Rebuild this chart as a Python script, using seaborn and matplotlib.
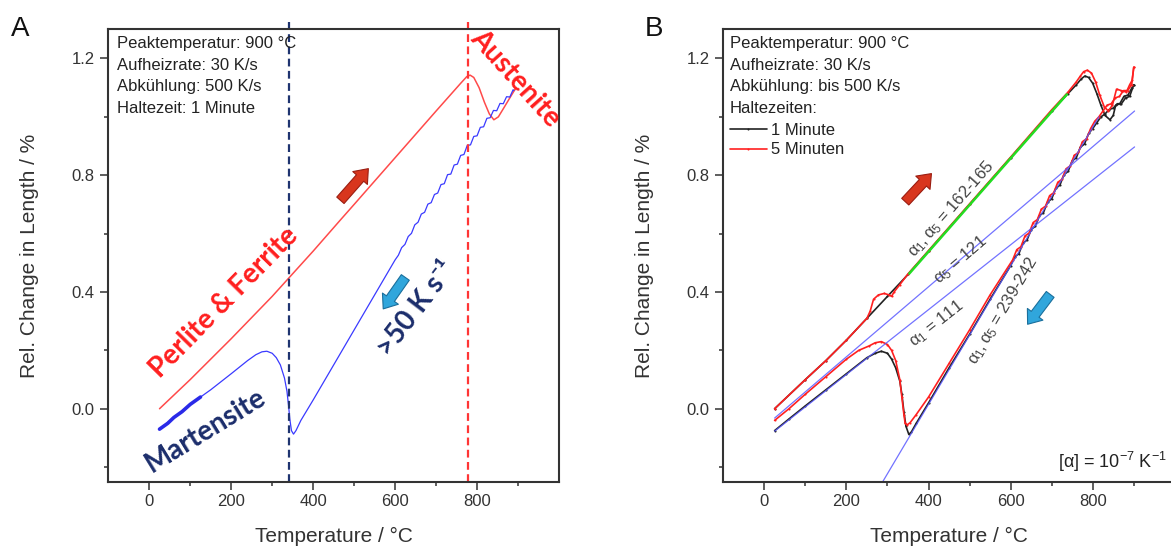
import numpy as np
import seaborn as sns
import matplotlib.pyplot as plt
from matplotlib.ticker import FixedLocator, FormatStrFormatter

sns.set_style('ticks')
plt.rcParams['font.family'] = ['Liberation Sans', 'DejaVu Sans']
plt.rcParams['mathtext.fontset'] = 'custom'
plt.rcParams['mathtext.rm'] = 'Liberation Sans'
plt.rcParams['mathtext.it'] = 'Liberation Sans:italic'
plt.rcParams['mathtext.bf'] = 'Liberation Sans:bold'

# ---- Panel A: one dilatometer run (heating red, cooling blue) ----
A_heat_T = [25, 100, 200, 300, 400, 466, 500, 600, 700, 760, 775, 783, 792, 805, 818, 830, 841, 852, 865, 880, 893]
A_heat_dL = [0.0, 0.10, 0.24, 0.385, 0.54, 0.646, 0.70, 0.86, 1.02, 1.115, 1.138, 1.143, 1.135, 1.10, 1.05, 1.01, 0.99, 1.0, 1.03, 1.065, 1.095]

A_cool_T = [890, 888, 880, 872, 864, 856, 848, 840, 832, 824, 816, 808, 800, 792, 784, 776, 768, 760, 752, 744,
            736, 728, 720, 712, 704, 696, 688, 680, 672, 664, 656, 648, 640, 632, 624, 616, 608, 600,
            550, 500, 450, 400, 370, 358, 352, 347, 343, 340, 336, 330, 320, 310, 300, 287, 275, 260, 240, 200,
            150, 100, 60, 25]
A_cool_dL = [1.09, 1.093, 1.068, 1.069, 1.045, 1.046, 1.021, 1.022, 0.997, 0.995, 0.966, 0.964, 0.935, 0.933, 0.904, 0.902, 0.871, 0.868, 0.838, 0.835,
             0.804, 0.802, 0.771, 0.768, 0.739, 0.734, 0.706, 0.701, 0.673, 0.667, 0.639, 0.630, 0.601, 0.590, 0.563, 0.552, 0.526, 0.51,
             0.39, 0.27, 0.15, 0.03, -0.04, -0.075, -0.087, -0.075, -0.035, 0.01, 0.06, 0.105, 0.15, 0.175, 0.19, 0.197, 0.195, 0.185, 0.165, 0.12,
             0.065, 0.015, -0.03, -0.07]
# thick noisy start of the cooling curve (martensite region)
A_mart_T = [25, 45, 60, 80, 100, 125]
A_mart_dL = [-0.07, -0.05, -0.03, -0.01, 0.015, 0.04]

Ms_T = 342   # blue dashed line
Ac_T = 779   # red dashed line

# ---- Panel B: two holding times ----
B1_heat_T = [25, 100, 150, 200, 250, 300, 350, 400, 500, 600, 700, 740, 760, 772, 781, 790, 800, 810, 820, 830,
             842, 850, 856, 866, 876, 886, 895, 900]
B1_heat_dL = [0.0, 0.10, 0.165, 0.235, 0.31, 0.385, 0.46, 0.54, 0.70, 0.86, 1.02, 1.08, 1.11, 1.13, 1.14, 1.135, 1.115, 1.08, 1.04, 1.005,
              0.99, 1.005, 1.04, 1.045, 1.07, 1.075, 1.098, 1.11]
B1_cool_T = [900, 890, 880, 870, 860, 850, 840, 830, 820, 810, 800, 790, 780, 770, 760, 750, 740, 730, 720, 710,
             700, 690, 680, 670, 660, 650, 640, 630, 620, 610, 600, 550, 500, 450, 400, 370, 358, 352, 345, 340,
             335, 330, 320, 310, 300, 285, 270, 250, 200, 150, 100, 60, 25]
B1_cool_dL = [1.11, 1.07, 1.065, 1.045, 1.045, 1.03, 1.025, 1.01, 1.0, 0.98, 0.96, 0.943, 0.907, 0.896, 0.860, 0.849, 0.813, 0.802, 0.766, 0.755,
              0.719, 0.708, 0.672, 0.661, 0.625, 0.614, 0.578, 0.567, 0.531, 0.52, 0.49, 0.375, 0.255, 0.14, 0.02, -0.05, -0.08, -0.088, -0.06, -0.01,
              0.05, 0.095, 0.14, 0.17, 0.19, 0.197, 0.19, 0.175, 0.12, 0.065, 0.01, -0.035, -0.075]

B5_heat_T = [25, 100, 150, 200, 250, 258, 266, 278, 292, 304, 310, 316, 330, 350, 400, 500, 600, 700, 740, 760,
             770, 778, 787, 797, 807, 817, 828, 838, 848, 858, 870, 882, 890, 896, 900]
B5_heat_dL = [0.0, 0.10, 0.165, 0.235, 0.31, 0.335, 0.375, 0.39, 0.395, 0.39, 0.385, 0.40, 0.425, 0.462, 0.542, 0.702, 0.862, 1.024, 1.085, 1.12,
              1.14, 1.155, 1.16, 1.15, 1.12, 1.075, 1.035, 1.02, 1.04, 1.095, 1.09, 1.085, 1.11, 1.125, 1.17]
B5_cool_T = [900, 895, 885, 875, 865, 855, 845, 835, 825, 815, 805, 795, 785, 775, 765, 755, 745, 735, 725, 715,
             705, 695, 685, 675, 665, 655, 645, 635, 625, 615, 605, 550, 500, 450, 400, 370, 355, 348, 343, 340,
             335, 330, 320, 310, 300, 285, 270, 255, 230, 200, 150, 100, 60, 25]
B5_cool_dL = [1.17, 1.11, 1.09, 1.09, 1.07, 1.065, 1.045, 1.04, 1.02, 1.0, 0.985, 0.96, 0.925, 0.915, 0.878, 0.868, 0.832, 0.822, 0.786, 0.776,
              0.74, 0.73, 0.694, 0.684, 0.648, 0.638, 0.602, 0.592, 0.555, 0.545, 0.51, 0.39, 0.27, 0.155, 0.04, -0.02, -0.048, -0.055, -0.05, -0.02,
              0.04, 0.1, 0.165, 0.2, 0.22, 0.23, 0.226, 0.215, 0.2, 0.17, 0.11, 0.05, 0.0, -0.04]

# linear fits
fit_a5_T, fit_a5_dL = [25, 902], [-0.032, 1.02]
fit_a1_T, fit_a1_dL = [25, 902], [-0.077, 0.897]
fit_cool_T, fit_cool_dL = [280, 815], [-0.27, 1.0]
fit_heat_T, fit_heat_dL = [353, 737], [0.463, 1.077]

info_A = ['Peaktemperatur: 900 °C', 'Aufheizrate: 30 K/s', 'Abkühlung: 500 K/s', 'Haltezeit: 1 Minute']
info_B = ['Peaktemperatur: 900 °C', 'Aufheizrate: 30 K/s', 'Abkühlung: bis 500 K/s', 'Haltezeiten:']
legend_B = ['1 Minute', '5 Minuten']

x_major = [0, 200, 400, 600, 800]
x_minor = [100, 300, 500, 700, 900]
y_major = [0.0, 0.4, 0.8, 1.2]
y_minor = [-0.2, 0.2, 0.6, 1.0]

W, H = 1171, 548
fig = plt.figure(figsize=(W / 100, H / 100), dpi=100)


def axes_px(l, t, r, b):
    return fig.add_axes([l / W, 1 - b / H, (r - l) / W, (b - t) / H])


def curve(ax, T, dL, **kw):
    sns.lineplot(x=T, y=dL, sort=False, estimator=None, legend=False, ax=ax, **kw)
    return ax.lines[-1]


def style(ax):
    ax.set_xlim(-100, 1000)
    ax.set_ylim(-0.25, 1.3)
    ax.xaxis.set_major_locator(FixedLocator(x_major))
    ax.xaxis.set_minor_locator(FixedLocator(x_minor))
    ax.yaxis.set_major_locator(FixedLocator(y_major))
    ax.yaxis.set_minor_locator(FixedLocator(y_minor))
    ax.yaxis.set_major_formatter(FormatStrFormatter('%.1f'))
    ax.tick_params(which='major', direction='out', length=6, width=1.1, color='#333333',
                   labelsize=12, labelcolor='#333333')
    ax.tick_params(axis='x', which='major', pad=3)
    ax.tick_params(axis='y', which='major', pad=4)
    ax.tick_params(which='minor', direction='out', length=3, width=1.1, color='#333333')
    for s in ax.spines.values():
        s.set_linewidth(1.5)
        s.set_color('#333333')
    ax.set_xlabel('Temperature / °C', fontsize=15, color='#333333')
    ax.set_ylabel('Rel. Change in Length / %', fontsize=15, color='#333333')
    ax.xaxis.label.set_va('center')
    ax.yaxis.label.set_va('center')
    ax.xaxis.set_label_coords(0.5, -0.122)
    ax.yaxis.set_label_coords(-0.174, 0.5)


def arrow(ax, tail, tip, fc, ec):
    ax.annotate('', xy=tip, xytext=tail, xycoords='axes fraction', textcoords='axes fraction',
                arrowprops=dict(arrowstyle='simple,head_length=0.45,head_width=0.7,tail_width=0.35',
                                fc=fc, ec=ec, lw=0.8, mutation_scale=20, shrinkA=0, shrinkB=0))


axA = axes_px(108.3, 29.3, 559, 481.7)
axB = axes_px(723.3, 29.3, 1174.8, 481.7)

# ---------------- Panel A ----------------
curve(axA, A_heat_T, A_heat_dL, color='#ff4a4a', lw=1.1)
curve(axA, A_cool_T, A_cool_dL, color='#3a3aff', lw=0.9)
curve(axA, A_mart_T, A_mart_dL, color='#2a2ae8', lw=2.6)
axA.axvline(Ms_T, ymin=0, ymax=1.017, clip_on=False, color='#1f3470', lw=1.6, ls=(0, (3.5, 2)))
axA.axvline(Ac_T, ymin=0, ymax=1.017, clip_on=False, color='#ff3535', lw=1.6, ls=(0, (3.5, 2)))
style(axA)

for i, s in enumerate(info_A):
    axA.text(0.0186, 0.969 - i * 0.048, s, transform=axA.transAxes, fontsize=12,
             color='#222222', va='center', ha='left')

bold = dict(family=['Lato', 'DejaVu Sans'], weight='bold', fontsize=20,
            transform=axA.transAxes, ha='center', va='center', rotation_mode='anchor')
axA.text(0.256, 0.397, 'Perlite & Ferrite', color='#ff1f1f', rotation=45.5, **bold)
axA.text(0.215, 0.112, 'Martensite', color='#1b2d6b', rotation=31.5, **bold)
axA.text(0.684, 0.382, '>50 K s⁻¹', color='#1b2d6b', rotation=52.5, **bold)
axA.text(0.903, 0.892, 'Austenite', color='#ff1f1f', rotation=-48, **bold)

arrow(axA, (0.515, 0.622), (0.577, 0.692), '#d8361e', '#9a1c10')
arrow(axA, (0.659, 0.4515), (0.610, 0.382), '#30a6dc', '#1a6f9c')

# ---------------- Panel B ----------------
l1 = curve(axB, B1_heat_T, B1_heat_dL, color='#222222', lw=1.2, marker='.', ms=3, mec='none')
curve(axB, B1_cool_T, B1_cool_dL, color='#222222', lw=1.2, marker='.', ms=3, mec='none')
l5 = curve(axB, B5_heat_T, B5_heat_dL, color='#ff2020', lw=1.2, marker='.', ms=3, mec='none')
curve(axB, B5_cool_T, B5_cool_dL, color='#ff2020', lw=1.2, marker='.', ms=3, mec='none')
for T, dL in [(fit_a5_T, fit_a5_dL), (fit_a1_T, fit_a1_dL), (fit_cool_T, fit_cool_dL)]:
    curve(axB, T, dL, color='#5a5aff', lw=0.9, alpha=0.85)
curve(axB, fit_heat_T, fit_heat_dL, color='#22dd22', lw=1.8)
style(axB)

for i, s in enumerate(info_B):
    axB.text(0.0148, 0.969 - i * 0.048, s, transform=axB.transAxes, fontsize=12,
             color='#222222', va='center', ha='left')
axB.legend([l1, l5], legend_B, loc='center left', bbox_to_anchor=(0.0148, 0.7545),
           frameon=False, fontsize=12, handlelength=2.2, handletextpad=0.25,
           labelspacing=0.25, borderpad=0, borderaxespad=0, numpoints=1,
           labelcolor='#222222')


def slope_angle(ax, T, dL):
    p = ax.transData.transform(np.column_stack([T, dL]))
    return np.degrees(np.arctan2(p[-1, 1] - p[0, 1], p[-1, 0] - p[0, 0]))


ann = dict(fontsize=12, color='#444444', ha='center', va='center', rotation_mode='anchor')
axB.text(455, 0.685, r'$\mathrm{\alpha_1,\alpha_5}$ = 162-165',
         rotation=slope_angle(axB, fit_heat_T, fit_heat_dL), **ann)
axB.text(477, 0.51, r'$\mathrm{\alpha_5}$ = 121',
         rotation=slope_angle(axB, fit_a5_T, fit_a5_dL), **ann)
axB.text(419, 0.292, r'$\mathrm{\alpha_1}$ = 111',
         rotation=slope_angle(axB, fit_a1_T, fit_a1_dL), **ann)
axB.text(581, 0.335, r'$\mathrm{\alpha_1,\alpha_5}$ = 239-242',
         rotation=slope_angle(axB, fit_cool_T, fit_cool_dL), **ann)
axB.text(0.982, 0.044, r'[$\mathrm{\alpha}$] = 10$^{\mathrm{-7}}$ K$^{\mathrm{-1}}$',
         transform=axB.transAxes, fontsize=13, color='#222222', ha='right', va='center')

arrow(axB, (0.403, 0.619), (0.461, 0.681), '#d8361e', '#9a1c10')
arrow(axB, (0.724, 0.414), (0.674, 0.348), '#30a6dc', '#1a6f9c')

fig.text(20.4 / W, 1 - 29.3 / H, 'A', fontsize=20, ha='center', va='center', color='#111111')
fig.text(653.7 / W, 1 - 29.3 / H, 'B', fontsize=20, ha='center', va='center', color='#111111')

fig.savefig('out.png', dpi=100)
